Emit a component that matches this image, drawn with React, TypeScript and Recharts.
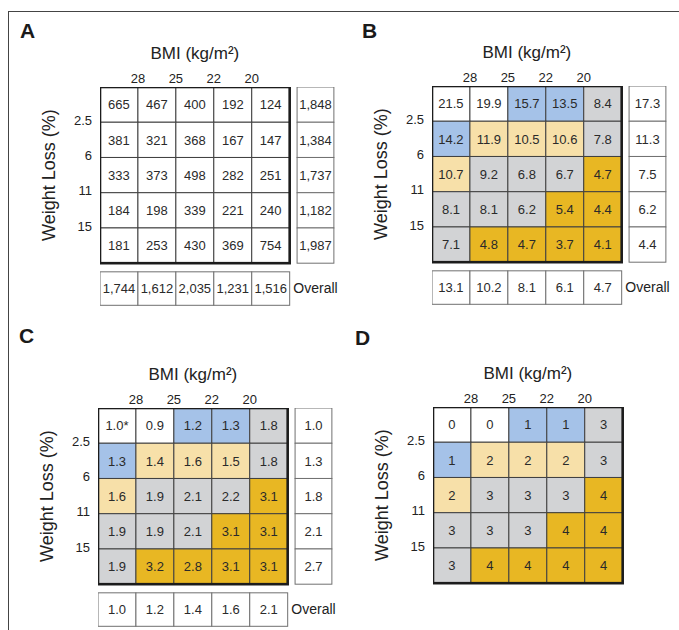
import React from "react";
import { ScatterChart, Scatter, XAxis, YAxis, Label } from "recharts";

const bmiTicks = ["28", "25", "22", "20"];
const lossTicks = ["2.5", "6", "11", "15"];

// A: participants per cell
const countsA = [
  [665, 467, 400, 192, 124],
  [381, 321, 368, 167, 147],
  [333, 373, 498, 282, 251],
  [184, 198, 339, 221, 240],
  [181, 253, 430, 369, 754],
];
const countsRowTotals = [1848, 1384, 1737, 1182, 1987];
const countsColTotals = [1744, 1612, 2035, 1231, 1516];

// B: rates
const ratesB = [
  [21.5, 19.9, 15.7, 13.5, 8.4],
  [14.2, 11.9, 10.5, 10.6, 7.8],
  [10.7, 9.2, 6.8, 6.7, 4.7],
  [8.1, 8.1, 6.2, 5.4, 4.4],
  [7.1, 4.8, 4.7, 3.7, 4.1],
];
const ratesRowTotals = [17.3, 11.3, 7.5, 6.2, 4.4];
const ratesColTotals = [13.1, 10.2, 8.1, 6.1, 4.7];

// C: hazard ratios (top-left is the reference)
const hazardC = [
  [1.0, 0.9, 1.2, 1.3, 1.8],
  [1.3, 1.4, 1.6, 1.5, 1.8],
  [1.6, 1.9, 2.1, 2.2, 3.1],
  [1.9, 1.9, 2.1, 3.1, 3.1],
  [1.9, 3.2, 2.8, 3.1, 3.1],
];
const hazardRowTotals = [1.0, 1.3, 1.8, 2.1, 2.7];
const hazardColTotals = [1.0, 1.2, 1.4, 1.6, 2.1];

// D: grade
const gradeD = [
  [0, 0, 1, 1, 3],
  [1, 2, 2, 2, 3],
  [2, 3, 3, 3, 4],
  [3, 3, 3, 4, 4],
  [3, 4, 4, 4, 4],
];

const gradeColors = ["#ffffff", "#a5c2e8", "#f7e0a9", "#d2d3d5", "#e8b723"];

const FONT = '"Liberation Sans", Arial, Helvetica, sans-serif';
const W = 340;
const H = 309;
const MARGIN = { top: 63, right: 1, bottom: 0, left: 60 };
const Y_AXIS_W = 40;
const X_AXIS_H = 24;
const DOMAIN_MAX = 6.3;
const UNIT_X = (W - MARGIN.left - MARGIN.right - Y_AXIS_W) / DOMAIN_MAX;
const UNIT_Y = (H - MARGIN.top - MARGIN.bottom - X_AXIS_H) / DOMAIN_MAX;
const GRID_LEFT = MARGIN.left + Y_AXIS_W;
const GRID_TOP = MARGIN.top + X_AXIS_H;
const SIDE_X = 5.68;
const FOOT_Y = 5.72;

type Kind = "grid" | "side" | "foot" | "caption" | "frame";
type CellDatum = { x: number; y: number; text: string; fill: string; kind: Kind };

const fmtCount = (v: number) => v.toLocaleString("en-US");
const fmt1 = (v: number) => v.toFixed(1);

function buildCells(
  values: number[][],
  fmt: (v: number, r: number, c: number) => string,
  colored: boolean,
  rowTotals?: number[],
  colTotals?: number[],
  totalFmt?: (v: number) => string
): CellDatum[] {
  const out: CellDatum[] = [];
  values.forEach((row, r) =>
    row.forEach((v, c) =>
      out.push({
        x: c + 0.5,
        y: r + 0.5,
        text: fmt(v, r, c),
        fill: colored ? gradeColors[gradeD[r][c]] : "#ffffff",
        kind: "grid",
      })
    )
  );
  if (rowTotals && totalFmt)
    rowTotals.forEach((v, r) => out.push({ x: SIDE_X, y: r + 0.5, text: totalFmt(v), fill: "#ffffff", kind: "side" }));
  if (colTotals && totalFmt) {
    colTotals.forEach((v, c) => out.push({ x: c + 0.5, y: FOOT_Y, text: totalFmt(v), fill: "#ffffff", kind: "foot" }));
    out.push({ x: SIDE_X, y: FOOT_Y, text: "Overall", fill: "none", kind: "caption" });
  }
  return out;
}

const frameData: CellDatum[] = [{ x: 2.5, y: 2.5, text: "", fill: "none", kind: "frame" }];

function CellShape(props: any) {
  const { cx, cy, payload } = props;
  const d = payload as CellDatum;
  if (d.kind === "frame") {
    return (
      <rect
        x={cx - 2.5 * UNIT_X}
        y={cy - 2.5 * UNIT_Y}
        width={5 * UNIT_X}
        height={5 * UNIT_Y}
        fill="none"
        stroke="#1c1c1c"
        strokeWidth={2.6}
      />
    );
  }
  if (d.kind === "caption") {
    return (
      <text x={cx} y={cy} dy="0.35em" textAnchor="middle" fontSize={14} fill="#222" fontFamily={FONT}>
        {d.text}
      </text>
    );
  }
  const w = d.kind === "side" ? 0.97 * UNIT_X : UNIT_X;
  const h = d.kind === "foot" ? 0.95 * UNIT_Y : UNIT_Y;
  return (
    <g>
      <rect
        x={cx - w / 2}
        y={cy - h / 2}
        width={w}
        height={h}
        fill={d.fill}
        stroke={d.kind === "grid" ? "#404040" : "#707070"}
        strokeWidth={1}
      />
      <text x={cx} y={cy} dy="0.36em" textAnchor="middle" fontSize={13} fill="#2a2a2a" fontFamily={FONT}>
        {d.text}
      </text>
    </g>
  );
}

function Panel({ cells, left, top }: { cells: CellDatum[]; left: number; top: number }) {
  return (
    <div style={{ position: "absolute", left, top }}>
      <ScatterChart width={W} height={H} margin={MARGIN}>
        <XAxis
          type="number"
          dataKey="x"
          orientation="top"
          domain={[0, DOMAIN_MAX]}
          ticks={[1, 2, 3, 4]}
          tickFormatter={(v) => bmiTicks[v - 1]}
          height={X_AXIS_H}
          axisLine={false}
          tickLine={false}
          tickSize={0}
          tickMargin={4}
          tick={{ fill: "#222", fontSize: 13, fontFamily: FONT }}
          allowDataOverflow
        >
          <Label
            content={() => (
              <text
                x={GRID_LEFT + 2.5 * UNIT_X}
                y={GRID_TOP - 34}
                dy="0.35em"
                textAnchor="middle"
                fontSize={17}
                fill="#222"
                fontFamily={FONT}
              >
                BMI (kg/m²)
              </text>
            )}
          />
        </XAxis>
        <YAxis
          type="number"
          dataKey="y"
          reversed
          domain={[0, DOMAIN_MAX]}
          ticks={[1, 2, 3, 4]}
          tickFormatter={(v) => lossTicks[v - 1]}
          width={Y_AXIS_W}
          axisLine={false}
          tickLine={false}
          tickSize={0}
          tickMargin={8}
          tick={{ fill: "#222", fontSize: 13, fontFamily: FONT, dy: -2 }}
          allowDataOverflow
        >
          <Label
            content={() => {
              const x = GRID_LEFT - 51;
              const y = GRID_TOP + 2.5 * UNIT_Y;
              return (
                <text
                  x={x}
                  y={y}
                  dy="0.35em"
                  textAnchor="middle"
                  fontSize={18}
                  fill="#222"
                  fontFamily={FONT}
                  transform={`rotate(-90 ${x} ${y})`}
                >
                  Weight Loss (%)
                </text>
              );
            }}
          />
        </YAxis>
        <Scatter data={cells} shape={(p: any) => <CellShape {...p} />} isAnimationActive={false} />
        <Scatter data={frameData} shape={(p: any) => <CellShape {...p} />} isAnimationActive={false} />
      </ScatterChart>
    </div>
  );
}

const cellsA = buildCells(countsA, (v) => fmtCount(v), false, countsRowTotals, countsColTotals, fmtCount);
const cellsB = buildCells(ratesB, (v) => fmt1(v), true, ratesRowTotals, ratesColTotals, fmt1);
const cellsC = buildCells(
  hazardC,
  (v, r, c) => (r === 0 && c === 0 ? `${fmt1(v)}*` : fmt1(v)),
  true,
  hazardRowTotals,
  hazardColTotals,
  fmt1
);
const cellsD = buildCells(gradeD, (v) => String(v), true);

const letterStyle: React.CSSProperties = {
  position: "absolute",
  fontFamily: FONT,
  fontWeight: 700,
  fontSize: 21,
  lineHeight: "21px",
  color: "#1a1a1a",
};

export default function App() {
  return (
    <div
      style={{
        position: "absolute",
        left: 0,
        top: 0,
        width: 679,
        height: 630,
        background: "#fff",
        overflow: "hidden",
        fontFamily: FONT,
      }}
    >
      <div
        style={{
          position: "absolute",
          left: 8,
          top: 11,
          width: 680,
          height: 640,
          borderTop: "1.5px solid #444",
          borderLeft: "1.5px solid #444",
        }}
      />
      <Panel cells={cellsA} left={0} top={0} />
      <Panel cells={cellsB} left={332} top={-1} />
      <Panel cells={cellsC} left={-2} top={321} />
      <Panel cells={cellsD} left={333} top={320} />
      <div style={{ ...letterStyle, left: 20, top: 20 }}>A</div>
      <div style={{ ...letterStyle, left: 362, top: 20 }}>B</div>
      <div style={{ ...letterStyle, left: 19, top: 325 }}>C</div>
      <div style={{ ...letterStyle, left: 355, top: 327 }}>D</div>
    </div>
  );
}
